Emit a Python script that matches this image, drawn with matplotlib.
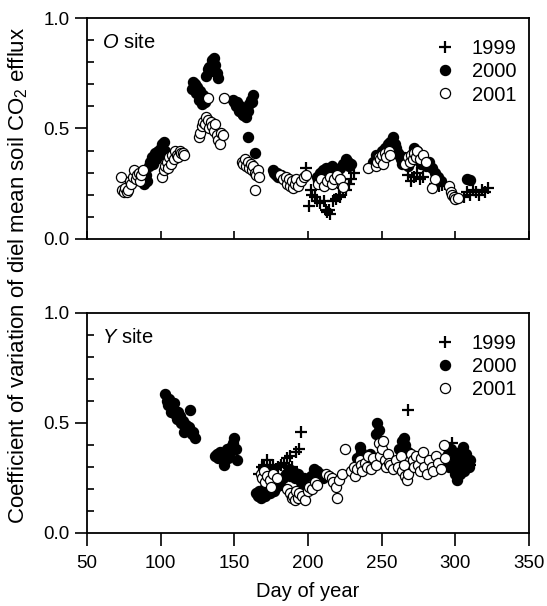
import matplotlib
matplotlib.use("Agg")
import matplotlib.pyplot as plt
from matplotlib.ticker import MultipleLocator

plt.rcParams['font.family'] = ['Liberation Sans', 'DejaVu Sans']
plt.rcParams['mathtext.fontset'] = 'custom'
plt.rcParams['mathtext.rm'] = 'Liberation Sans'
plt.rcParams['mathtext.it'] = 'Liberation Sans:italic'

# --- O site data ---
o_1999_day = [199, 201, 202, 203, 205, 206, 208, 211, 212, 213,
              214, 215, 217, 219, 221, 222, 224, 226, 228, 229,
              231, 268, 270, 272, 274, 276, 278, 286, 289, 291,
              293, 306, 308, 310, 312, 314, 316, 318, 320, 322]
o_1999_val = [0.32, 0.15, 0.22, 0.20, 0.19, 0.17, 0.16, 0.17, 0.13, 0.12,
              0.13, 0.11, 0.17, 0.18, 0.20, 0.19, 0.23, 0.22, 0.25, 0.27,
              0.30, 0.29, 0.26, 0.28, 0.30, 0.27, 0.28, 0.25, 0.24, 0.245,
              0.25, 0.19, 0.21, 0.20, 0.22, 0.21, 0.20, 0.22, 0.21, 0.23]

o_2000_day = [88, 89, 90, 91, 92, 93, 94, 95, 96, 97,
              98, 99, 100, 101, 102, 103, 121, 122, 123, 124,
              125, 126, 127, 128, 129, 130, 131, 132, 133, 134,
              135, 136, 137, 138, 139, 149, 150, 151, 152, 153,
              154, 155, 156, 157, 158, 159, 160, 161, 162, 163,
              159, 164, 176, 177, 178, 179, 180, 182, 206, 207,
              208, 209, 210, 211, 212, 213, 214, 216, 218, 220,
              222, 224, 226, 227, 228, 229, 244, 246, 248, 250,
              252, 254, 256, 258, 259, 260, 261, 262, 263, 264,
              265, 266, 268, 270, 271, 272, 273, 274, 275, 276,
              277, 278, 280, 282, 284, 286, 288, 290, 308, 310]
o_2000_val = [0.27, 0.25, 0.29, 0.26, 0.33, 0.35, 0.37, 0.34, 0.39, 0.36,
              0.40, 0.38, 0.41, 0.43, 0.44, 0.40, 0.68, 0.71, 0.70, 0.66,
              0.69, 0.63, 0.67, 0.61, 0.65, 0.62, 0.74, 0.77, 0.78, 0.76,
              0.81, 0.82, 0.79, 0.75, 0.73, 0.63, 0.62, 0.60, 0.62, 0.58,
              0.60, 0.57, 0.56, 0.59, 0.55, 0.58, 0.61, 0.63, 0.62, 0.65,
              0.46, 0.39, 0.31, 0.30, 0.29, 0.30, 0.28, 0.29, 0.28, 0.26,
              0.30, 0.27, 0.31, 0.29, 0.32, 0.30, 0.28, 0.33, 0.31, 0.30,
              0.32, 0.34, 0.36, 0.35, 0.33, 0.34, 0.35, 0.38, 0.37, 0.40,
              0.41, 0.43, 0.44, 0.46, 0.43, 0.41, 0.39, 0.38, 0.36, 0.34,
              0.37, 0.35, 0.33, 0.36, 0.39, 0.41, 0.38, 0.40, 0.37, 0.35,
              0.34, 0.36, 0.33, 0.35, 0.32, 0.30, 0.28, 0.26, 0.27, 0.265]

o_2001_day = [73, 74, 75, 76, 77, 78, 79, 80, 81, 82,
              83, 84, 85, 86, 87, 88, 101, 102, 103, 104,
              105, 106, 107, 108, 109, 110, 111, 112, 113, 114,
              115, 116, 126, 127, 128, 129, 130, 131, 132, 133,
              134, 135, 136, 137, 138, 139, 140, 141, 142, 132,
              143, 155, 156, 157, 158, 159, 160, 161, 162, 163,
              164, 165, 166, 167, 164, 181, 183, 185, 186, 187,
              188, 189, 190, 191, 192, 193, 195, 197, 199, 207,
              209, 211, 213, 215, 216, 218, 220, 222, 224, 241,
              246, 247, 248, 249, 250, 251, 252, 253, 255, 256,
              266, 268, 269, 270, 271, 272, 273, 274, 276, 278,
              280, 284, 286, 296, 297, 298, 299, 300, 302]
o_2001_val = [0.28, 0.22, 0.21, 0.23, 0.21, 0.22, 0.26, 0.25, 0.28, 0.31,
              0.27, 0.29, 0.30, 0.26, 0.29, 0.31, 0.28, 0.31, 0.33, 0.35,
              0.32, 0.37, 0.34, 0.38, 0.36, 0.40, 0.38, 0.37, 0.40, 0.39,
              0.39, 0.38, 0.46, 0.48, 0.51, 0.53, 0.52, 0.55, 0.54, 0.50,
              0.53, 0.51, 0.49, 0.52, 0.47, 0.45, 0.43, 0.48, 0.47, 0.64,
              0.64, 0.35, 0.34, 0.36, 0.33, 0.35, 0.32, 0.34, 0.31, 0.33,
              0.30, 0.29, 0.31, 0.28, 0.22, 0.29, 0.27, 0.28, 0.25, 0.27,
              0.24, 0.26, 0.23, 0.25, 0.27, 0.24, 0.26, 0.28, 0.29, 0.25,
              0.27, 0.24, 0.26, 0.28, 0.25, 0.27, 0.29, 0.27, 0.235, 0.32,
              0.33, 0.35, 0.37, 0.36, 0.38, 0.34, 0.39, 0.37, 0.40, 0.38,
              0.34, 0.37, 0.35, 0.38, 0.36, 0.39, 0.37, 0.40, 0.36, 0.38,
              0.35, 0.23, 0.27, 0.24, 0.21, 0.20, 0.19, 0.18, 0.185]

# --- Y site data ---
y_1999_day = [167, 169, 170, 172, 174, 176, 178, 180, 182, 184,
              186, 188, 189, 192, 194, 195, 268, 298, 300, 303,
              306, 309, 310]
y_1999_val = [0.27, 0.30, 0.31, 0.33, 0.30, 0.31, 0.29, 0.30, 0.31, 0.32,
              0.34, 0.35, 0.30, 0.37, 0.38, 0.46, 0.56, 0.41, 0.36, 0.33,
              0.30, 0.32, 0.31]

y_2000_day = [103, 104, 105, 106, 107, 108, 109, 110, 111, 112,
              113, 114, 115, 116, 117, 118, 119, 120, 121, 122,
              123, 137, 138, 139, 140, 141, 142, 143, 144, 145,
              146, 147, 148, 149, 150, 151, 152, 165, 166, 167,
              168, 169, 170, 171, 172, 173, 174, 175, 176, 177,
              178, 179, 180, 181, 183, 185, 187, 188, 190, 191,
              193, 195, 196, 197, 202, 204, 206, 208, 210, 233,
              235, 236, 238, 240, 242, 244, 246, 247, 248, 250,
              262, 264, 265, 266, 268, 294, 295, 296, 297, 298,
              299, 300, 301, 302, 303, 304, 305, 306, 307, 308,
              309, 310, 300, 303, 305]
y_2000_val = [0.63, 0.60, 0.58, 0.61, 0.55, 0.57, 0.59, 0.54, 0.52, 0.55,
              0.53, 0.50, 0.51, 0.46, 0.49, 0.47, 0.48, 0.56, 0.45, 0.46,
              0.43, 0.35, 0.36, 0.34, 0.37, 0.35, 0.33, 0.31, 0.36, 0.38,
              0.34, 0.37, 0.39, 0.41, 0.43, 0.38, 0.33, 0.18, 0.17, 0.19,
              0.16, 0.18, 0.20, 0.17, 0.19, 0.21, 0.18, 0.20, 0.22, 0.19,
              0.21, 0.23, 0.24, 0.22, 0.25, 0.27, 0.29, 0.26, 0.28, 0.25,
              0.27, 0.23, 0.22, 0.25, 0.26, 0.29, 0.28, 0.27, 0.25, 0.34,
              0.39, 0.37, 0.35, 0.33, 0.36, 0.34, 0.45, 0.50, 0.47, 0.42,
              0.38, 0.42, 0.43, 0.40, 0.37, 0.33, 0.36, 0.30, 0.38, 0.32,
              0.35, 0.29, 0.24, 0.33, 0.37, 0.31, 0.34, 0.28, 0.36, 0.32,
              0.30, 0.33, 0.27, 0.27, 0.39]

y_2001_day = [168, 169, 170, 171, 172, 174, 175, 176, 179, 186,
              188, 189, 190, 191, 192, 193, 194, 196, 198, 200,
              201, 203, 205, 206, 212, 214, 216, 217, 219, 220,
              221, 223, 225, 229, 231, 232, 233, 235, 236, 237,
              239, 240, 241, 243, 244, 246, 248, 249, 250, 251,
              252, 253, 254, 255, 256, 258, 260, 261, 263, 264,
              265, 266, 267, 268, 270, 271, 272, 273, 275, 276,
              277, 278, 279, 281, 282, 284, 285, 287, 288, 290,
              292, 293]
y_2001_val = [0.27, 0.25, 0.28, 0.23, 0.26, 0.24, 0.21, 0.27, 0.25, 0.20,
              0.18, 0.16, 0.17, 0.15, 0.19, 0.16, 0.18, 0.17, 0.15, 0.19,
              0.21, 0.20, 0.23, 0.22, 0.27, 0.26, 0.25, 0.23, 0.21, 0.16,
              0.24, 0.27, 0.38, 0.28, 0.30, 0.26, 0.29, 0.33, 0.31, 0.28,
              0.32, 0.30, 0.35, 0.29, 0.34, 0.31, 0.41, 0.35, 0.38, 0.42,
              0.33, 0.30, 0.36, 0.32, 0.31, 0.29, 0.33, 0.30, 0.35, 0.28,
              0.31, 0.26, 0.24, 0.27, 0.36, 0.33, 0.30, 0.35, 0.31, 0.28,
              0.34, 0.37, 0.30, 0.27, 0.33, 0.30, 0.28, 0.35, 0.32, 0.29,
              0.40, 0.34]

years = ['1999', '2000', '2001']
site_labels = [r'$\it{O}$ site', r'$\it{Y}$ site']


def draw_panel(ax, d99, v99, d00, v00, d01, v01, label):
    ax.plot(d99, v99, ls='none', marker='+', ms=8, mew=1.6, color='black', label=years[0])
    ax.plot(d00, v00, ls='none', marker='o', ms=7.3, mfc='black', mec='black', mew=0.9, label=years[1])
    ax.plot(d01, v01, ls='none', marker='o', ms=7.3, mfc='white', mec='black', mew=0.9, label=years[2])
    ax.set_xlim(50, 350)
    ax.set_ylim(0, 1.0)
    ax.yaxis.set_major_locator(MultipleLocator(0.5))
    ax.yaxis.set_minor_locator(MultipleLocator(0.1))
    ax.xaxis.set_major_locator(MultipleLocator(50))
    ax.tick_params(axis='y', which='major', direction='out', length=9, width=1.2, labelsize=13.5)
    ax.tick_params(axis='y', which='minor', direction='in', length=5, width=1.2)
    ax.yaxis.set_major_formatter(plt.FormatStrFormatter('%.1f'))
    for s in ax.spines.values():
        s.set_linewidth(1.3)
    ax.text(0.033, 0.89, label, transform=ax.transAxes, fontsize=14.5, va='center')
    leg = ax.legend(loc='upper right', bbox_to_anchor=(0.99, 0.94), frameon=False,
                    fontsize=14.5, handlelength=0.8, handletextpad=0.9, labelspacing=0.2,
                    borderaxespad=0)
    return leg


fig = plt.figure(figsize=(5.47, 6.06), dpi=100)
ax1 = fig.add_axes([0.159, 0.606, 0.808, 0.364])
ax2 = fig.add_axes([0.159, 0.1205, 0.808, 0.363])

draw_panel(ax1, o_1999_day, o_1999_val, o_2000_day, o_2000_val, o_2001_day, o_2001_val, site_labels[0])
draw_panel(ax2, y_1999_day, y_1999_val, y_2000_day, y_2000_val, y_2001_day, y_2001_val, site_labels[1])

ax1.tick_params(axis='x', which='major', direction='in', length=6, width=1.2, labelbottom=False)
ax2.tick_params(axis='x', which='major', direction='out', length=9, width=1.2, labelsize=13.5, pad=7)
ax2.set_xlabel('Day of year', fontsize=14.5, labelpad=7)

fig.text(0.034, 0.546, 'Coefficient of variation of diel mean soil CO$_2$ efflux',
         rotation=90, ha='center', va='center', fontsize=16)

fig.savefig('out.png', dpi=100)
